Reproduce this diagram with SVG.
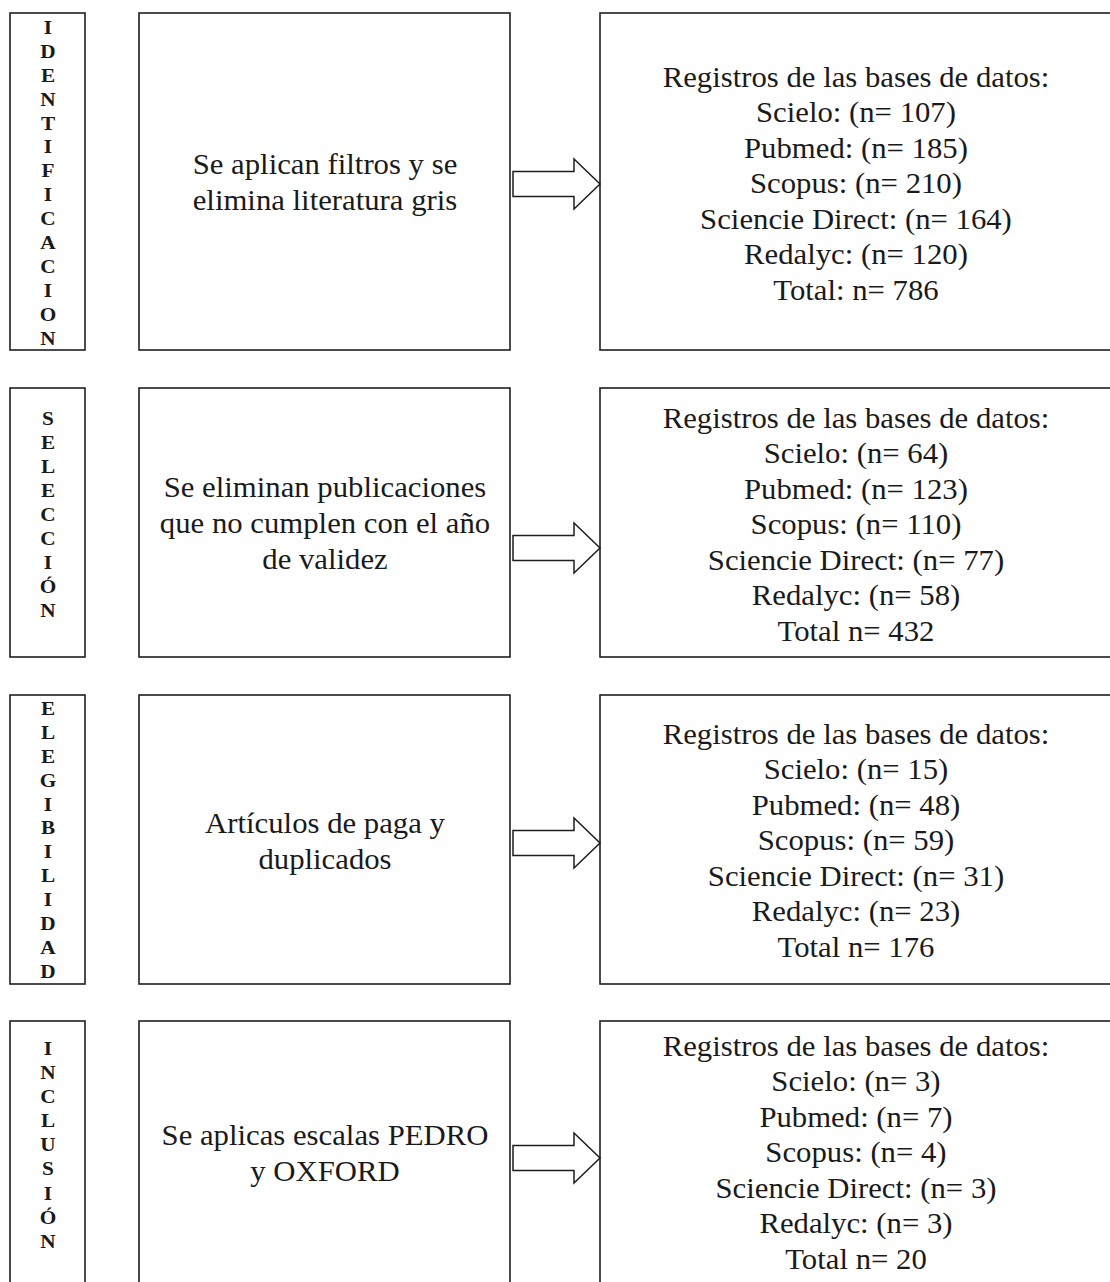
<svg xmlns="http://www.w3.org/2000/svg" width="1110" height="1282" viewBox="0 0 1110 1282">
<style>
.box{fill:#fff;stroke:#1e1e1e;stroke-width:1.6}
.arr{fill:#fff;stroke:#1e1e1e;stroke-width:1.5;stroke-linejoin:miter}
.t{font-family:"Liberation Serif","Times New Roman",serif;font-size:29px;fill:#1a1a1a;text-anchor:middle}
.v{font-family:"Liberation Serif","Times New Roman",serif;font-size:18.5px;font-weight:bold;fill:#1a1a1a;text-anchor:middle}
</style>
<rect width="1110" height="1282" fill="#fff"/>

<g id="label-identificacion">
<rect class="box" x="10" y="13" width="75" height="337"/>
<text class="v" transform="matrix(1.15 0 0 1 -7.2 0)"><tspan x="48" y="34">I</tspan><tspan x="48" y="57.9">D</tspan><tspan x="48" y="81.8">E</tspan><tspan x="48" y="105.7">N</tspan><tspan x="48" y="129.6">T</tspan><tspan x="48" y="153.5">I</tspan><tspan x="48" y="177.4">F</tspan><tspan x="48" y="201.3">I</tspan><tspan x="48" y="225.2">C</tspan><tspan x="48" y="249.1">A</tspan><tspan x="48" y="273">C</tspan><tspan x="48" y="296.9">I</tspan><tspan x="48" y="320.8">O</tspan><tspan x="48" y="344.7">N</tspan></text>
</g>
<g id="step-identificacion">
<rect class="box" x="139" y="13" width="371" height="337"/>
<text class="t" transform="matrix(1.06 0 0 1 -19.5 0)"><tspan x="325" y="174">Se aplican filtros y se</tspan><tspan x="325" y="210">elimina literatura gris</tspan></text>
</g>
<g id="result-identificacion">
<rect class="box" x="600" y="13" width="530" height="337"/>
<text class="t" transform="matrix(1.06 0 0 1 -51.36 0)"><tspan x="856" y="87">Registros de las bases de datos:</tspan><tspan x="856" y="122.5">Scielo: (n= 107)</tspan><tspan x="856" y="158">Pubmed: (n= 185)</tspan><tspan x="856" y="193.5">Scopus: (n= 210)</tspan><tspan x="856" y="229">Sciencie Direct: (n= 164)</tspan><tspan x="856" y="264.5">Redalyc: (n= 120)</tspan><tspan x="856" y="300">Total: n= 786</tspan></text>
</g>

<g id="label-seleccion">
<rect class="box" x="10" y="388" width="75" height="269"/>
<text class="v" transform="matrix(1.15 0 0 1 -7.2 0)"><tspan x="48" y="425">S</tspan><tspan x="48" y="449">E</tspan><tspan x="48" y="473">L</tspan><tspan x="48" y="497">E</tspan><tspan x="48" y="521">C</tspan><tspan x="48" y="545">C</tspan><tspan x="48" y="569">I</tspan><tspan x="48" y="593">Ó</tspan><tspan x="48" y="617">N</tspan></text>
</g>
<g id="step-seleccion">
<rect class="box" x="139" y="388" width="371" height="269"/>
<text class="t" transform="matrix(1.06 0 0 1 -19.5 0)"><tspan x="325" y="497">Se eliminan publicaciones</tspan><tspan x="325" y="533">que no cumplen con el año</tspan><tspan x="325" y="569">de validez</tspan></text>
</g>
<g id="result-seleccion">
<rect class="box" x="600" y="388" width="530" height="269"/>
<text class="t" transform="matrix(1.06 0 0 1 -51.36 0)"><tspan x="856" y="428">Registros de las bases de datos:</tspan><tspan x="856" y="463.5">Scielo: (n= 64)</tspan><tspan x="856" y="499">Pubmed: (n= 123)</tspan><tspan x="856" y="534.5">Scopus: (n= 110)</tspan><tspan x="856" y="570">Sciencie Direct: (n= 77)</tspan><tspan x="856" y="605.5">Redalyc: (n= 58)</tspan><tspan x="856" y="641">Total n= 432</tspan></text>
</g>

<g id="label-elegibilidad">
<rect class="box" x="10" y="695" width="75" height="289"/>
<text class="v" transform="matrix(1.15 0 0 1 -7.2 0)"><tspan x="48" y="715">E</tspan><tspan x="48" y="738.9">L</tspan><tspan x="48" y="762.8">E</tspan><tspan x="48" y="786.7">G</tspan><tspan x="48" y="810.6">I</tspan><tspan x="48" y="834.5">B</tspan><tspan x="48" y="858.4">I</tspan><tspan x="48" y="882.3">L</tspan><tspan x="48" y="906.2">I</tspan><tspan x="48" y="930.1">D</tspan><tspan x="48" y="954">A</tspan><tspan x="48" y="977.9">D</tspan></text>
</g>
<g id="step-elegibilidad">
<rect class="box" x="139" y="695" width="371" height="289"/>
<text class="t" transform="matrix(1.06 0 0 1 -19.5 0)"><tspan x="325" y="833">Artículos de paga y</tspan><tspan x="325" y="869">duplicados</tspan></text>
</g>
<g id="result-elegibilidad">
<rect class="box" x="600" y="695" width="530" height="289"/>
<text class="t" transform="matrix(1.06 0 0 1 -51.36 0)"><tspan x="856" y="744">Registros de las bases de datos:</tspan><tspan x="856" y="779.5">Scielo: (n= 15)</tspan><tspan x="856" y="815">Pubmed: (n= 48)</tspan><tspan x="856" y="850.5">Scopus: (n= 59)</tspan><tspan x="856" y="886">Sciencie Direct: (n= 31)</tspan><tspan x="856" y="921.5">Redalyc: (n= 23)</tspan><tspan x="856" y="957">Total n= 176</tspan></text>
</g>

<g id="label-inclusion">
<rect class="box" x="10" y="1021" width="75" height="280"/>
<text class="v" transform="matrix(1.15 0 0 1 -7.2 0)"><tspan x="48" y="1055">I</tspan><tspan x="48" y="1079.1">N</tspan><tspan x="48" y="1103.2">C</tspan><tspan x="48" y="1127.3">L</tspan><tspan x="48" y="1151.4">U</tspan><tspan x="48" y="1175.5">S</tspan><tspan x="48" y="1199.6">I</tspan><tspan x="48" y="1223.7">Ó</tspan><tspan x="48" y="1247.8">N</tspan></text>
</g>
<g id="step-inclusion">
<rect class="box" x="139" y="1021" width="371" height="280"/>
<text class="t" transform="matrix(1.06 0 0 1 -19.5 0)"><tspan x="325" y="1145">Se aplicas escalas PEDRO</tspan><tspan x="325" y="1181">y OXFORD</tspan></text>
</g>
<g id="result-inclusion">
<rect class="box" x="600" y="1021" width="530" height="280"/>
<text class="t" transform="matrix(1.06 0 0 1 -51.36 0)"><tspan x="856" y="1056">Registros de las bases de datos:</tspan><tspan x="856" y="1091.5">Scielo: (n= 3)</tspan><tspan x="856" y="1127">Pubmed: (n= 7)</tspan><tspan x="856" y="1162.5">Scopus: (n= 4)</tspan><tspan x="856" y="1198">Sciencie Direct: (n= 3)</tspan><tspan x="856" y="1233.5">Redalyc: (n= 3)</tspan><tspan x="856" y="1269">Total n= 20</tspan></text>
</g>

<g id="connectors">
<path class="arr" d="M513,171.5 H574 V159 L600,184 L574,209 V196.5 H513 Z"/>
<path class="arr" d="M513,535.5 H574 V523 L600,548 L574,573 V560.5 H513 Z"/>
<path class="arr" d="M513,830.5 H574 V818 L600,843 L574,868 V855.5 H513 Z"/>
<path class="arr" d="M513,1145.5 H574 V1133 L600,1158 L574,1183 V1170.5 H513 Z"/>
</g>
</svg>
